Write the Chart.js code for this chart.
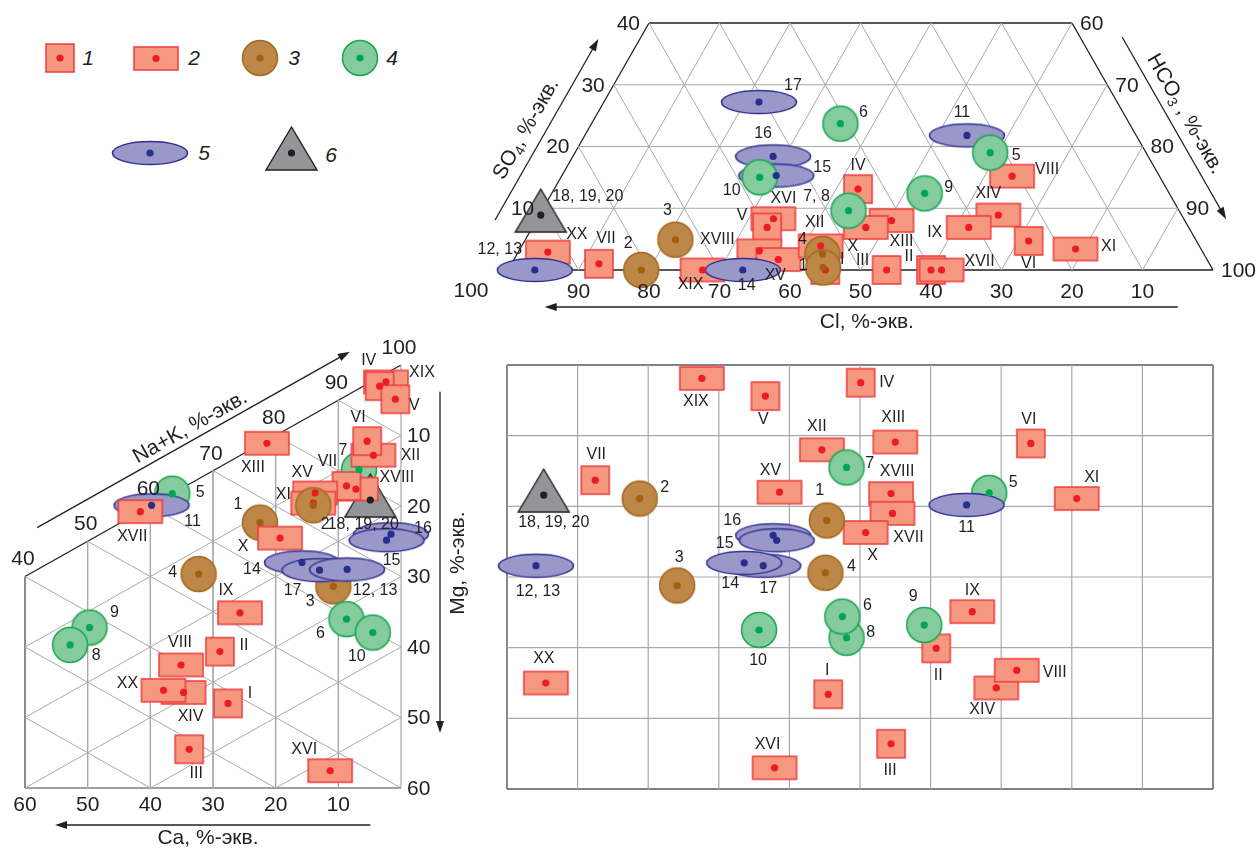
<!DOCTYPE html>
<html>
<head>
<meta charset="utf-8">
<script src="https://cdn.jsdelivr.net/npm/chart.js@4.4.1/dist/chart.umd.min.js"></script>
<style>
  html, body { margin: 0; padding: 0; background: #fff; }
  body { width: 1258px; height: 849px; position: relative; overflow: hidden; font-family: "Liberation Sans", Arial, sans-serif; }
  canvas.panel { position: absolute; }
  .lg-mark { position: absolute; }
  .lg-text { position: absolute; font: italic 21px "Liberation Sans", Arial, sans-serif; color: #231f20; transform: translate(-50%, -50%); }
</style>
</head>
<body>
<canvas id="anionChart" class="panel" width="818" height="340" style="left:440px;top:0"></canvas>
<canvas id="cationChart" class="panel" width="490" height="519" style="left:0;top:330px"></canvas>
<canvas id="squareChart" class="panel" width="763" height="509" style="left:495px;top:340px"></canvas>
<div id="legend"></div>
<script>
// ---------- data ----------
// anion triangle: Cl and SO4, %-экв. (HCO3 = 100 - Cl - SO4), listed in drawing order
const anionLabels = ['XVI', 'V', 'XVIII', 'XV', 'XIX', 'XX', 'VII', 'XII', 'IV', 'XIII', 'X', 'XIV', 'IX', 'VIII', 'VI', 'XI', 'III', 'II', 'XVII', 'I',
  '17', '16', '15', '11', '12, 13', '14', '2', '3', '4', '1', '6', '10', '7, 8', '9', '5', '18, 19, 20'];
const anionCl = [58.2, 59.8, 62.8, 60.8, 72.4, 92.9, 86.6, 53.7, 43.8, 41.6, 45.8, 26.0, 31.2, 20.9, 23.8, 17.8, 46.3, 40.0, 38.5, 55.0,
  50.8, 53.2, 54.3, 24.0, 96.2, 66.7, 81.1, 73.8, 54.1, 55.1, 41.0, 56.8, 46.9, 34.7, 22.1, 90.9];
const anionSO4 = [8.3, 6.9, 3.1, 1.7, 0, 2.9, 1.0, 3.9, 13.1, 8.0, 6.9, 8.9, 6.9, 15.2, 4.7, 3.4, 0, 0, 0, 0,
  27.2, 18.4, 15.3, 21.8, 0, 0, 0, 4.9, 2.6, 0.4, 23.7, 15.0, 9.6, 12.4, 19.0, 8.9];

// cation triangle: Ca and Mg, %-экв. (Na+K = 100 - Ca - Mg)
const cationLabels = ['7', '18, 19, 20', 'XIX', 'IV', 'V', 'XII', 'VI', 'XVIII', 'VII', 'XIII', 'XV', 'XI', '2', '1', 'X',
  '16', '15', '3', '14', '17', '12, 13', '4', '5', '11', 'XVII', 'IX', '9', '8', '6', '10', 'II', 'VIII', 'XIV', 'XX', 'I', 'III', 'XVI'];
const cationCa = [6.7, 4.9, 2.4, 3.4, 0.9, 4.4, 5.4, 7.2, 8.7, 21.4, 13.7, 14.0, 14.0, 22.5, 19.3,
  1.6, 2.3, 10.8, 15.8, 13.0, 8.6, 32.3, 36.5, 39.8, 41.6, 25.7, 49.7, 52.8, 8.7, 4.5, 28.9, 35.1, 34.7, 37.9, 27.6, 33.8, 11.3];
const cationMg = [11.5, 16.7, 1.2, 1.3, 4.4, 10.6, 8.1, 14.0, 12.8, 0.4, 11.3, 12.6, 12.9, 11.1, 14.9,
  23.2, 23.7, 26.0, 20.1, 22.6, 24.7, 13.5, 0, 0, 0, 22.3, 12.4, 13.3, 31.7, 35.7, 26.2, 25.0, 29.1, 27.2, 34.2, 37.6, 51.9];

// square field: projection of the anion (x) and cation (y) triangles
const squareLabels = ['XIX', 'V', 'IV', 'XII', 'XIII', 'VI', 'VII', 'XV', 'XVIII', 'XVII', 'X', 'XI', 'XX', 'I', 'XVI', 'II', 'IX', 'XIV', 'VIII', 'III',
  '16', '15', '17', '14', '12, 13', '5', '11', '2', '1', '3', '4', '7', '10', '8', '6', '9', '18, 19, 20'];
const squareX = [27.6, 36.6, 50.1, 44.6, 55.0, 74.2, 12.5, 38.6, 54.4, 54.6, 50.8, 80.7, 5.5, 45.5, 37.9, 60.8, 65.9, 69.3, 72.2, 54.4,
  37.7, 38.2, 36.3, 33.6, 4.1, 68.3, 65.1, 18.8, 45.3, 24.1, 45.1, 48.1, 35.7, 48.1, 47.5, 59.1, 5.2];
const squareY = [1.9, 4.4, 2.5, 12.0, 10.9, 11.1, 16.3, 18.0, 18.2, 21.0, 23.7, 18.9, 45.0, 46.6, 57.0, 40.1, 34.9, 45.7, 43.2, 53.6,
  24.1, 24.8, 28.4, 28.0, 28.4, 18.1, 19.8, 18.9, 22.0, 31.2, 29.4, 14.5, 37.5, 38.6, 35.6, 36.8, 18.4];

const anionTicks = [10, 20, 30, 40, 50, 60, 70, 80, 90];
const cationTicks = [10, 20, 30, 40, 50, 60];
const legendItems = ['1', '2', '3', '4', '5', '6'];

// ---------- label placement (px offsets from the marker centre) ----------
const anionLabelPos = {
  '17': [34, -16], '6': [23, -11], '16': [-10, -23], '15': [46, -8], '10': [-28, 13], 'IV': [0, -24], '7, 8': [-32, -14],
  '18, 19, 20': [47, -18], 'XVI': [10, -20], 'V': [-25, -12], 'XII': [-6, -23], '4': [-20, -14], '1': [-20, -2], 'I': [17, -10],
  'III': [-24, -9], 'II': [-22, -13], 'XVII': [38, -8], 'IX': [-34, 5], '11': [-5, -23], '5': [26, 3], 'VIII': [35, -7],
  '9': [24, -6], 'XIV': [-10, -21], 'XIII': [10, 21], 'X': [-13, 19], 'VI': [0, 23], 'XI': [33, -2], 'XX': [29, -17],
  '12, 13': [-35, -20], 'VII': [7, -25], '2': [-13, -26], '3': [-8, -29], 'XVIII': [-42, -11], 'XIX': [-12, 15], '14': [4, 16], 'XV': [-3, 16]
};
const cationLabelPos = {
  'IV': [-11, -26], 'XIX': [36, -9], 'V': [19, 6], 'VI': [-9, -24], 'XII': [37, 0], '7': [-16, -19], 'VII': [-19, -24],
  'XVIII': [41, -11], '18, 19, 20': [-7, 25], 'XV': [-13, -20], 'XI': [-30, -9], '2': [12, 19], '1': [-22, -18], 'X': [-37, 9],
  'XIII': [-14, 24], '16': [32, -6], '15': [5, 20], '14': [-50, 7], '17': [-27, 20], '12, 13': [28, 21], '3': [-23, 15],
  '5': [28, -1], '11': [41, 16], 'XVII': [-8, 25], '4': [-26, -1], 'IX': [-14, -22], '9': [25, -15], '8': [26, 11],
  '6': [-26, 14], '10': [-16, 24], 'II': [24, -6], 'VIII': [-1, -22], 'XX': [-36, -7], 'XIV': [7, 24], 'I': [22, -10],
  'III': [7, 24], 'XVI': [-26, -21]
};
const squareLabelPos = {
  'XIX': [-6, 23], 'V': [-2, 24], 'IV': [26, 0], 'XII': [-5, -23], '7': [23, -4], 'VII': [1, -26], 'XV': [-9, -22],
  '18, 19, 20': [10, 28], '2': [25, -11], '1': [-7, -30], '16': [-41, -15], '15': [-52, 3], '14': [-14, 21], '17': [5, 23],
  '12, 13': [2, 26], '3': [2, -28], '4': [26, -6], 'X': [7, 23], 'XIII': [-2, -24], 'VI': [-2, -24], 'XVIII': [6, -22],
  'XVII': [16, 24], '5': [24, -10], '11': [0, 23], 'XI': [15, -21], '10': [-1, 31], '6': [25, -11], '8': [24, -5],
  'XX': [-2, -24], 'I': [-1, -24], 'XVI': [-7, -23], '9': [-11, -28], 'IX': [0, -21], 'II': [2, 27], 'VIII': [38, 2],
  'XIV': [-14, 22], 'III': [-1, 27]
};

// ---------- marker symbols ----------
const INK = '#231f20';
const ROMAN = ['I', 'II', 'III', 'IV', 'V', 'VI', 'VII', 'VIII', 'IX', 'X', 'XI', 'XII', 'XIII', 'XIV', 'XV', 'XVI', 'XVII', 'XVIII', 'XIX', 'XX'];
const STYLE = {
  1: { kind: 'rect', w: 28, h: 28, fill: '#f6977f', stroke: '#ef3b3e', dot: '#ed1c24' },
  2: { kind: 'rect', w: 44, h: 23, fill: '#f6977f', stroke: '#ef3b3e', dot: '#ed1c24' },
  3: { kind: 'circle', w: 36, h: 36, fill: '#bd8747', stroke: '#a6681f', dot: '#a0600f' },
  4: { kind: 'circle', w: 36, h: 36, fill: '#84cc9d', stroke: '#1aa54f', dot: '#00a651' },
  5: { kind: 'circle', w: 76, h: 24, fill: '#9a97c9', stroke: '#2e3192', dot: '#262f8e' },
  6: { kind: 'tri', w: 51, h: 43, fill: '#939598', stroke: INK, dot: INK }
};

function sampleType(label) {
  const r = ROMAN.indexOf(label);
  if (r >= 0) return r < 7 ? 1 : 2;
  const n = parseInt(label, 10);
  if (n <= 4) return 3;
  if (n <= 10) return 4;
  if (n <= 17) return 5;
  return 6;
}

function makeMarker(t, withDot) {
  const s = STYLE[t];
  const pad = 2;
  const c = document.createElement('canvas');
  const ctx = c.getContext('2d');
  if (s.kind === 'tri') {
    const up = 26, down = s.h - up;
    c.width = s.w + pad * 2;
    c.height = up * 2 + pad * 2;
    const cx = c.width / 2, cy = c.height / 2;
    ctx.beginPath();
    ctx.moveTo(cx, cy - up);
    ctx.lineTo(cx + s.w / 2, cy + down);
    ctx.lineTo(cx - s.w / 2, cy + down);
    ctx.closePath();
    ctx.fillStyle = s.fill; ctx.fill();
    ctx.lineWidth = 1.4; ctx.strokeStyle = s.stroke; ctx.stroke();
  } else {
    c.width = s.w + pad * 2;
    c.height = s.h + pad * 2;
    ctx.fillStyle = s.fill;
    ctx.strokeStyle = s.stroke;
    ctx.lineWidth = 1.5;
    if (s.kind === 'rect') {
      ctx.fillRect(pad, pad, s.w, s.h);
      ctx.strokeRect(pad, pad, s.w, s.h);
    } else {
      ctx.beginPath();
      ctx.ellipse(c.width / 2, c.height / 2, s.w / 2 - 0.5, s.h / 2 - 0.5, 0, 0, Math.PI * 2);
      ctx.fill(); ctx.stroke();
    }
  }
  if (withDot) {
    ctx.beginPath();
    ctx.arc(c.width / 2, c.height / 2, 3.6, 0, Math.PI * 2);
    ctx.fillStyle = s.dot; ctx.fill();
  }
  return c;
}

const markerImg = {};
[1, 2, 3, 4, 5, 6].forEach(t => { markerImg[t] = makeMarker(t, false); });

// ---------- helpers ----------
function seg(a, b, color, width) {
  return { type: 'scatter', showLine: true, data: [a, b], borderColor: color, borderWidth: width,
    pointRadius: 0, clip: false, order: 3 };
}

function arrow(ctx, x1, y1, x2, y2) {
  const a = Math.atan2(y2 - y1, x2 - x1);
  const len = 12, hw = 4;
  ctx.save();
  ctx.strokeStyle = INK; ctx.fillStyle = INK; ctx.lineWidth = 1.3;
  ctx.beginPath();
  ctx.moveTo(x1, y1);
  ctx.lineTo(x2 - Math.cos(a) * len * 0.8, y2 - Math.sin(a) * len * 0.8);
  ctx.stroke();
  ctx.beginPath();
  ctx.moveTo(x2, y2);
  ctx.lineTo(x2 - Math.cos(a) * len - Math.sin(a) * hw, y2 - Math.sin(a) * len + Math.cos(a) * hw);
  ctx.lineTo(x2 - Math.cos(a) * len + Math.sin(a) * hw, y2 - Math.sin(a) * len - Math.cos(a) * hw);
  ctx.closePath();
  ctx.fill();
  ctx.restore();
}

// text made of parts, some of them subscripts, centred on (x, y) and rotated
function richText(ctx, parts, x, y, angle, size) {
  ctx.save();
  ctx.translate(x, y);
  ctx.rotate(angle);
  ctx.fillStyle = INK;
  ctx.textBaseline = 'middle';
  ctx.textAlign = 'left';
  const fontOf = p => (p.sub ? Math.round(size * 0.68) : size) + 'px "Liberation Sans", Arial, sans-serif';
  let total = 0;
  parts.forEach(p => { ctx.font = fontOf(p); total += ctx.measureText(p.t).width; });
  let cx = -total / 2;
  parts.forEach(p => {
    ctx.font = fontOf(p);
    ctx.fillText(p.t, cx, p.sub ? size * 0.28 : 0);
    cx += ctx.measureText(p.t).width;
  });
  ctx.restore();
}

function tickText(ctx, text, x, y, align) {
  ctx.save();
  ctx.font = '21px "Liberation Sans", Arial, sans-serif';
  ctx.fillStyle = INK;
  ctx.textAlign = align || 'center';
  ctx.textBaseline = 'middle';
  ctx.fillText(text, x, y);
  ctx.restore();
}

const pointLabels = {
  id: 'pointLabels',
  afterDatasetsDraw(chart, args, opts) {
    const meta = chart.getDatasetMeta(1);
    const ctx = chart.ctx;
    ctx.save();
    ctx.font = '16px "Liberation Sans", Arial, sans-serif';
    ctx.fillStyle = INK;
    ctx.textAlign = 'center';
    ctx.textBaseline = 'middle';
    opts.labels.forEach((lab, i) => {
      const el = meta.data[i];
      const off = opts.offsets[lab] || [0, -24];
      ctx.fillText(lab, el.x + off[0], el.y + off[1]);
    });
    ctx.restore();
  }
};

function buildChart(id, cfg) {
  const types = cfg.labels.map(sampleType);
  const pts = cfg.points;
  return new Chart(document.getElementById(id), {
    type: 'scatter',
    data: {
      datasets: [
        { label: 'dots', data: pts, pointStyle: 'circle', pointRadius: 3.6, borderWidth: 0,
          pointBackgroundColor: types.map(t => STYLE[t].dot), clip: false, order: 0 },
        { label: 'samples', data: pts, pointStyle: types.map(t => markerImg[t]), pointRadius: 5,
          borderWidth: 0, clip: false, order: 1 }
      ].concat(cfg.grid)
    },
    options: {
      responsive: false,
      animation: false,
      devicePixelRatio: 1,
      events: [],
      layout: { padding: cfg.padding },
      scales: {
        x: { type: 'linear', display: false, min: cfg.x[0], max: cfg.x[1], reverse: !!cfg.xReverse },
        y: { type: 'linear', display: false, min: cfg.y[0], max: cfg.y[1], reverse: !!cfg.yReverse }
      },
      plugins: {
        legend: { display: false },
        tooltip: { enabled: false },
        pointLabels: { labels: cfg.labels, offsets: cfg.offsets }
      }
    },
    plugins: [pointLabels, { id: 'decor', afterDraw: cfg.decorate || (() => {}) }]
  });
}

const GRID = '#a7a9ac';
const FRAME = INK;

// ---------- anion triangle ----------
function tern(cl, so4) { return { x: 100 - cl - so4 / 2, y: so4 }; }

const anionGrid = [];
[10, 20, 30].forEach(s => anionGrid.push(seg(tern(100 - s, s), tern(0, s), GRID, 1)));
anionTicks.forEach(c => {
  anionGrid.push(seg(tern(c, 0), tern(c, Math.min(40, 100 - c)), GRID, 1));
  const e = Math.min(40, c);
  anionGrid.push(seg(tern(c, 0), tern(c - e, e), GRID, 1));
});
anionGrid.push(seg(tern(100, 0), tern(0, 0), FRAME, 1.3));
anionGrid.push(seg(tern(100, 0), tern(60, 40), FRAME, 1.3));
anionGrid.push(seg(tern(0, 0), tern(0, 40), FRAME, 1.3));
anionGrid.push(seg(tern(60, 40), tern(0, 40), FRAME, 1.3));

buildChart('anionChart', {
  labels: anionLabels,
  offsets: anionLabelPos,
  points: anionLabels.map((l, i) => tern(anionCl[i], anionSO4[i])),
  grid: anionGrid,
  x: [0, 100], y: [0, 40],
  padding: { left: 68, right: 45, top: 23, bottom: 70 },
  decorate(chart) {
    const ctx = chart.ctx, xs = chart.scales.x, ys = chart.scales.y;
    const P = p => ({ x: xs.getPixelForValue(p.x), y: ys.getPixelForValue(p.y) });
    const base = ys.getPixelForValue(0);
    anionTicks.forEach(c => tickText(ctx, String(c), xs.getPixelForValue(100 - c), base + 22));
    tickText(ctx, '100', xs.getPixelForValue(0) - 37, base + 21);
    [10, 20, 30, 40].forEach(s => {
      const l = P(tern(100 - s, s));
      tickText(ctx, String(s), l.x - 9, l.y + 1, 'right');
    });
    [0, 10, 20, 30, 40].forEach(s => {
      const r = P(tern(0, s));
      tickText(ctx, String(100 - s), r.x + 8, r.y + 1, 'left');
    });
    // SO4 side
    const A = P(tern(100, 0)), B = P(tern(60, 40));
    let L = Math.hypot(B.x - A.x, B.y - A.y);
    let u = { x: (B.x - A.x) / L, y: (B.y - A.y) / L }, n = { x: u.y, y: -u.x };
    const along = (s, d) => ({ x: A.x + (B.x - A.x) * s / 40 + n.x * d, y: A.y + (B.y - A.y) * s / 40 + n.y * d });
    let p1 = along(5.2, 36), p2 = along(34.5, 36);
    arrow(ctx, p1.x, p1.y, p2.x, p2.y);
    let t = along(18.5, 54);
    richText(ctx, [{ t: 'SO' }, { t: '4', sub: true }, { t: ', %-экв.' }], t.x, t.y, Math.atan2(u.y, u.x), 21);
    // HCO3 side
    const C = P(tern(0, 0)), D = P(tern(0, 40));
    L = Math.hypot(D.x - C.x, D.y - C.y);
    u = { x: (D.x - C.x) / L, y: (D.y - C.y) / L };
    n = { x: -u.y, y: u.x };
    const along2 = (s, d) => ({ x: C.x + (D.x - C.x) * s / 40 + n.x * d, y: C.y + (D.y - C.y) * s / 40 + n.y * d });
    p1 = along2(34.8, 36.6); p2 = along2(5.3, 36.6);
    arrow(ctx, p1.x, p1.y, p2.x, p2.y);
    t = along2(21, 53);
    richText(ctx, [{ t: 'HCO' }, { t: '3', sub: true }, { t: ' , %-экв.' }], t.x, t.y, Math.atan2(-u.y, -u.x), 21);
    // Cl side
    arrow(ctx, xs.getPixelForValue(95), base + 37, xs.getPixelForValue(5.2), base + 37);
    richText(ctx, [{ t: 'Cl, %-экв.' }], xs.getPixelForValue(50.9), base + 52, 0, 21);
  }
});

// ---------- cation triangle ----------
function cat(ca, mg) { return { x: ca, y: mg + ca / 2 }; }

const cationGrid = [];
[10, 20, 30, 40, 50].forEach(c => cationGrid.push(seg(cat(c, 0), { x: c, y: 60 }, GRID, 1)));
[10, 20, 30, 40, 50].forEach(m => {
  const e = Math.min(60, 2 * (60 - m));
  cationGrid.push(seg(cat(0, m), cat(e, m), GRID, 1));
});
[10, 20, 30, 40, 50, 60, 70, 80, 90].forEach(nk => {
  const hi = Math.min(60, 100 - nk), lo = Math.max(0, 2 * (40 - nk));
  if (hi > lo) cationGrid.push(seg(cat(hi, 100 - nk - hi), cat(lo, 100 - nk - lo), GRID, 1));
});
cationGrid.push(seg({ x: 0, y: 0 }, { x: 0, y: 60 }, GRID, 1.2));
cationGrid.push(seg(cat(0, 0), cat(60, 0), FRAME, 1.3));
cationGrid.push(seg({ x: 60, y: 30 }, { x: 60, y: 60 }, '#414042', 1.2));
cationGrid.push(seg({ x: 0, y: 60 }, { x: 60, y: 60 }, '#414042', 1.2));

buildChart('cationChart', {
  labels: cationLabels,
  offsets: cationLabelPos,
  points: cationLabels.map((l, i) => cat(cationCa[i], cationMg[i])),
  grid: cationGrid,
  x: [0, 60], y: [0, 60], xReverse: true, yReverse: true,
  padding: { left: 25, right: 89, top: 35, bottom: 61 },
  decorate(chart) {
    const ctx = chart.ctx, xs = chart.scales.x, ys = chart.scales.y;
    const P = p => ({ x: xs.getPixelForValue(p.x), y: ys.getPixelForValue(p.y) });
    const bottom = ys.getPixelForValue(60), right = xs.getPixelForValue(0);
    [0].concat(cationTicks).forEach(c => {
      const v = P(cat(c, 0));
      tickText(ctx, String(100 - c), v.x - 2, v.y - 17);
    });
    cationTicks.forEach(m => {
      const v = P(cat(0, m));
      tickText(ctx, String(m), v.x + 6, v.y + 1, 'left');
    });
    cationTicks.forEach(c => tickText(ctx, String(c), xs.getPixelForValue(c), bottom + 17));
    // Na+K side
    const A = P(cat(60, 0)), B = P(cat(0, 0));
    const L = Math.hypot(B.x - A.x, B.y - A.y);
    const u = { x: (B.x - A.x) / L, y: (B.y - A.y) / L }, n = { x: u.y, y: -u.x };
    const along = (ca, d) => ({ x: A.x + (B.x - A.x) * (60 - ca) / 60 + n.x * d, y: A.y + (B.y - A.y) * (60 - ca) / 60 + n.y * d });
    const p1 = along(55.2, 36.7), p2 = along(5.3, 36.7);
    arrow(ctx, p1.x, p1.y, p2.x, p2.y);
    const t = along(29.8, 49);
    richText(ctx, [{ t: 'Na+K, %-экв.' }], t.x, t.y, Math.atan2(u.y, u.x), 21);
    // Ca side
    arrow(ctx, xs.getPixelForValue(4.9), bottom + 37, xs.getPixelForValue(55.2), bottom + 37);
    richText(ctx, [{ t: 'Ca, %-экв.' }], xs.getPixelForValue(30.8), bottom + 50, 0, 21);
    // Mg side
    arrow(ctx, right + 39, ys.getPixelForValue(3.8), right + 39, ys.getPixelForValue(52.2));
    richText(ctx, [{ t: 'Mg, %-экв.' }], right + 57, ys.getPixelForValue(28.1), -Math.PI / 2, 21);
  }
});

// ---------- square field ----------
const squareGrid = [];
[10, 20, 30, 40, 50, 60, 70, 80, 90].forEach(x => squareGrid.push(seg({ x: x, y: 0 }, { x: x, y: 60 }, GRID, 1.2)));
[10, 20, 30, 40, 50].forEach(y => squareGrid.push(seg({ x: 0, y: y }, { x: 100, y: y }, GRID, 1.2)));
squareGrid.push(seg({ x: 0, y: 0 }, { x: 100, y: 0 }, '#58595b', 1.4));
squareGrid.push(seg({ x: 0, y: 60 }, { x: 100, y: 60 }, '#58595b', 1.4));
squareGrid.push(seg({ x: 0, y: 0 }, { x: 0, y: 60 }, '#58595b', 1.4));
squareGrid.push(seg({ x: 100, y: 0 }, { x: 100, y: 60 }, '#58595b', 1.4));

buildChart('squareChart', {
  labels: squareLabels,
  offsets: squareLabelPos,
  points: squareLabels.map((l, i) => ({ x: squareX[i], y: squareY[i] })),
  grid: squareGrid,
  x: [0, 100], y: [0, 60], yReverse: true,
  padding: { left: 12, right: 45, top: 25, bottom: 60 }
});

// ---------- legend ----------
const legendPlace = { '1': [60, 58, 88], '2': [156, 58, 194], '3': [260, 58, 294], '4': [360, 58, 392], '5': [150, 153, 204], '6': [291, 153, 331] };
const legendBox = document.getElementById('legend');
legendItems.forEach(k => {
  const c = makeMarker(Number(k), true);
  const pos = legendPlace[k];
  c.className = 'lg-mark';
  c.style.left = (pos[0] - c.width / 2) + 'px';
  c.style.top = (pos[1] - c.height / 2) + 'px';
  legendBox.appendChild(c);
  const s = document.createElement('div');
  s.className = 'lg-text';
  s.textContent = k;
  s.style.left = pos[2] + 'px';
  s.style.top = (pos[1] + (k === '6' ? 2 : 0)) + 'px';
  legendBox.appendChild(s);
});
</script>
</body>
</html>
